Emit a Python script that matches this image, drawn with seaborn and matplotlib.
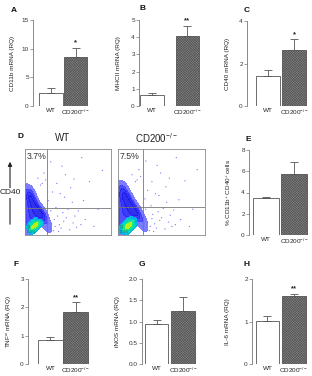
import numpy as np
import pandas as pd
import matplotlib
matplotlib.use("Agg")
import matplotlib.pyplot as plt
from matplotlib.colors import LinearSegmentedColormap
import seaborn as sns

sns.set_theme(style="white")
plt.rcParams['font.family'] = ['Liberation Sans', 'DejaVu Sans']
plt.rcParams['hatch.linewidth'] = 0.35
plt.rcParams['mathtext.fontset'] = 'custom'
plt.rcParams['mathtext.rm'] = 'Liberation Sans'

# ---------------- data ----------------
groups = ["WT", "CD200$^{-/-}$"]

cd11b_mean = [2.2, 8.5]
cd11b_err = [0.9, 1.7]
mhcii_mean = [0.65, 4.05]
mhcii_err = [0.1, 0.62]
cd40_mean = [1.42, 2.65]
cd40_err = [0.28, 0.5]
pct_mean = [3.45, 5.75]
pct_err = [0.15, 1.1]
tnf_mean = [0.85, 1.85]
tnf_err = [0.12, 0.33]
inos_mean = [0.93, 1.25]
inos_err = [0.1, 0.33]
il6_mean = [1.02, 1.6]
il6_err = [0.1, 0.05]

flow_titles = ["WT", "CD200$^{-/-}$"]
flow_pct = ["3.7%", "7.5%"]
flow_q3 = ["95.5%", "92.5%"]
flow_vline = [26, 29]
flow_hline = [31, 33]

# representative event cloud (axis units 0-100), WT and CD200-/-
cloud_wt_x = [1, 3, 5, 7, 9, 11, 13, 15, 17, 19, 21, 23, 1, 3, 5, 7, 9, 11, 13, 15, 17, 19, 21,
              1, 3, 5, 7, 9, 11, 13, 15, 17, 1, 3, 5, 7, 9, 11, 13, 1, 3, 5, 7, 9, 2, 5, 8, 24, 26, 28]
cloud_wt_y = [5, 8, 10, 12, 14, 16, 18, 20, 21, 22, 22, 20, 15, 18, 20, 22, 24, 25, 26, 26, 25, 24, 23,
              26, 28, 30, 31, 32, 32, 31, 30, 28, 36, 38, 40, 40, 39, 37, 35, 44, 46, 46, 45, 43, 52, 51, 49, 16, 12, 8]
core_wt_x = [4, 6, 8, 10, 12, 14, 16, 18, 1, 3, 5, 7, 9, 11, 13, 7, 9, 11, 13, 15, 17, 19, 21,
             9, 10, 11, 12, 13]
core_wt_y = [4, 6, 8, 10, 12, 14, 16, 17, 8, 10, 12, 14, 16, 18, 19, 1, 3, 5, 7, 9, 11, 13, 14,
             9, 10, 11, 12, 12]

cloud_ko_x = [1, 3, 5, 7, 9, 11, 13, 15, 17, 19, 21, 23, 25, 1, 3, 5, 7, 9, 11, 13, 15, 17, 19, 21, 23,
              1, 3, 5, 7, 9, 11, 13, 15, 17, 19, 1, 3, 5, 7, 9, 11, 13, 15, 1, 3, 5, 7, 9, 11, 2, 5, 8, 27, 29, 31]
cloud_ko_y = [5, 8, 10, 12, 14, 16, 18, 20, 22, 23, 24, 23, 21, 16, 19, 22, 24, 26, 27, 28, 28, 28, 27, 26, 25,
              28, 30, 32, 34, 35, 35, 35, 34, 33, 31, 39, 41, 43, 43, 42, 41, 40, 38, 47, 49, 50, 49, 47, 45, 56, 55, 53, 18, 14, 9]
core_ko_x = [4, 6, 8, 10, 12, 14, 16, 18, 20, 1, 3, 5, 7, 9, 11, 13, 15, 8, 10, 12, 14, 16, 18, 20, 22,
             10, 11, 12, 13, 14]
core_ko_y = [3, 5, 7, 9, 11, 13, 15, 17, 19, 7, 9, 11, 13, 15, 17, 19, 21, 0, 2, 4, 6, 8, 10, 12, 14,
             9, 10, 11, 12, 12]

# sparse events
sparse_wt_x = [28, 31, 35, 38, 42, 45, 30, 33, 40, 48, 52, 56, 60, 36, 44, 50, 27, 29, 34, 39, 58, 65, 70, 80, 46, 55, 62, 32, 37, 41, 47, 53, 68, 75, 85, 90, 30, 43, 57, 66, 20, 15, 22, 18, 24]
sparse_wt_y = [20, 14, 10, 22, 8, 16, 28, 5, 12, 20, 6, 14, 9, 32, 26, 30, 40, 8, 18, 4, 22, 12, 18, 10, 44, 38, 28, 50, 60, 48, 70, 55, 40, 62, 30, 75, 85, 80, 65, 90, 60, 66, 72, 58, 64]
sparse_ko_x = [30, 34, 37, 40, 44, 48, 32, 36, 42, 50, 54, 58, 62, 38, 46, 52, 31, 33, 39, 41, 60, 66, 72, 82, 47, 56, 64, 34, 39, 43, 49, 55, 70, 77, 86, 91, 32, 45, 59, 67, 22, 16, 24, 20, 26]
sparse_ko_y = [22, 15, 10, 24, 8, 17, 30, 5, 13, 20, 7, 15, 10, 34, 27, 31, 42, 9, 19, 4, 23, 12, 18, 10, 46, 38, 29, 52, 62, 48, 72, 56, 41, 63, 30, 76, 86, 81, 66, 90, 64, 70, 76, 62, 68]

W, H = 312, 376
fig = plt.figure(figsize=(W / 100, H / 100), dpi=100)


def px_axes(l, t, r, b):
    return fig.add_axes([l / W, 1 - b / H, (r - l) / W, (b - t) / H])


def bar_panel(l, t, r, b, means, errs, width, xlim, ylim, yticks, ylabel, ylab_x,
              star=None, fmt=None):
    ax = px_axes(l, t, r, b)
    df = pd.DataFrame({"group": groups, "value": means})
    sns.barplot(data=df, x="group", y="value", hue="group", order=groups,
                hue_order=groups, palette=["white", "#bcbcbc"], width=width,
                edgecolor="#555555", linewidth=0.6, errorbar=None, legend=False,
                ax=ax, saturation=1)
    for i, cont in enumerate(ax.containers):
        for p in cont:
            if i == 1:
                p.set_hatch("x" * 20)
            p.set_edgecolor("#555555")
    ax.errorbar([0, 1], means, yerr=[[0, 0], errs], fmt="none", ecolor="#555555",
                elinewidth=0.6, capsize=3, capthick=0.6)
    ax.set_xlim(*xlim)
    ax.set_ylim(*ylim)
    ax.set_yticks(yticks)
    if fmt:
        ax.set_yticklabels([fmt.format(v) for v in yticks])
    ax.set_xlabel("")
    ax.set_ylabel(ylabel, fontsize=4.6, color="#222222", labelpad=0)
    ax.yaxis.set_label_coords((ylab_x - l) / (r - l), 0.5)
    for s in ["top", "right", "bottom"]:
        ax.spines[s].set_visible(False)
    ax.spines["left"].set_color("#777777")
    ax.spines["left"].set_linewidth(0.6)
    ax.tick_params(axis="y", left=True, length=2, width=0.5, color="#777777",
                   labelsize=4.6, pad=1, labelcolor="#333333")
    ax.tick_params(axis="x", bottom=False, length=0, labelsize=4.6, pad=1.5,
                   labelcolor="#222222")
    if star:
        top = means[1] + errs[1]
        ax.text(1, top + (ylim[1] - ylim[0]) * 0.015, star, ha="center", va="bottom",
                fontsize=5.5, fontweight="bold", color="#222222")
    return ax


bar_panel(33, 20, 89, 106, cd11b_mean, cd11b_err, 0.97, (-0.75, 1.55), (0, 15),
          [0, 5, 10, 15], "CD11b mRNA (RQ)", 15, star="*")
bar_panel(139, 20, 200, 106, mhcii_mean, mhcii_err, 0.66, (-0.37, 1.36), (0, 5),
          [0, 1, 2, 3, 4, 5], "MHCII mRNA (RQ)", 121, star="**")
bar_panel(247, 21, 307, 106, cd40_mean, cd40_err, 0.92, (-0.81, 1.5), (0, 4),
          [0, 2, 4], "CD40 mRNA (RQ)", 230, star="*")
bar_panel(249, 150, 308, 235, pct_mean, pct_err, 0.93, (-0.61, 1.5), (0, 8),
          [0, 2, 4, 6, 8], "% CD11b$^{+}$ CD40$^{+}$ cells", 233)
bar_panel(28, 279, 89, 364, tnf_mean, tnf_err, 0.98, (-0.88, 1.51), (0, 3),
          [0, 1, 2, 3], "TNF$^{\\alpha}$ mRNA (RQ)", 14, star="**")
bar_panel(142, 279, 196, 364, inos_mean, inos_err, 0.89, (-0.55, 1.49), (0, 2.0),
          [0, 0.5, 1.0, 1.5, 2.0], "iNOS mRNA (RQ)", 120, fmt="{:.1f}")
bar_panel(252, 279, 307, 364, il6_mean, il6_err, 0.87, (-0.58, 1.49), (0, 2),
          [0, 1, 2], "IL-6 mRNA (RQ)", 230, star="**")

# ---------------- flow cytometry panels ----------------
blue_cmap = LinearSegmentedColormap.from_list("b", ["#8a8aff", "#3030ff", "#1414e6"])
core_cmap = LinearSegmentedColormap.from_list("c", ["#00a0ff", "#00d8c0", "#30ec70", "#a8f020", "#ffff00"])

flow_sets = [
    (cloud_wt_x, cloud_wt_y, core_wt_x, core_wt_y, sparse_wt_x, sparse_wt_y),
    (cloud_ko_x, cloud_ko_y, core_ko_x, core_ko_y, sparse_ko_x, sparse_ko_y),
]
flow_boxes = [(25, 149, 111, 235), (118, 149, 205, 235)]
title_x = [63, 157]

for k in range(2):
    l, t, r, b = flow_boxes[k]
    ax = px_axes(l, t, r, b)
    cx, cy, kx, ky, sx, sy = flow_sets[k]
    sns.scatterplot(x=sx, y=sy, s=0.8, color="#3a3aff", edgecolor="none", ax=ax,
                    alpha=0.7)
    sns.kdeplot(x=cx, y=cy, fill=True, cmap=blue_cmap, levels=5, thresh=0.06,
                bw_adjust=0.9, ax=ax, alpha=0.9)
    sns.kdeplot(x=kx, y=ky, fill=True, cmap=core_cmap, levels=6, thresh=0.2,
                bw_adjust=0.9, ax=ax)
    ax.set_xlim(0, 100)
    ax.set_ylim(0, 100)
    ax.axvline(flow_vline[k], color="#777777", lw=0.6)
    ax.axhline(flow_hline[k], color="#777777", lw=0.6)
    ax.set_xticks([])
    ax.set_yticks([])
    ax.set_xlabel("")
    ax.set_ylabel("")
    for s in ax.spines.values():
        s.set_color("#888888")
        s.set_linewidth(0.6)
    ax.text(2, 97, flow_pct[k], ha="left", va="top", fontsize=6.3, color="#333333")
    ax.text(2, 6.5, "Q3", ha="left", va="bottom", fontsize=2.3, color="#446644")
    ax.text(2, 1.5, flow_q3[k], ha="left", va="bottom", fontsize=2.3, color="#446644")
    fig.text(title_x[k] / W, 1 - 138 / H, flow_titles[k], ha="center", va="center",
             fontsize=7, color="#222222")

# CD40 arrow label
fig.patches.append(matplotlib.patches.FancyArrowPatch(
    (10 / W, 1 - 227 / H), (10 / W, 1 - 159 / H), transform=fig.transFigure,
    arrowstyle="-|>", mutation_scale=6, lw=0.8, color="#222222"))
fig.text(10 / W, 1 - 193 / H, "CD40", ha="center", va="center", fontsize=6,
         color="#222222", bbox=dict(facecolor="white", edgecolor="none", pad=1.2))

# panel letters
letters = [("A", 14, 10), ("B", 142, 8), ("C", 247, 10), ("D", 20, 137),
           ("E", 248, 139), ("F", 16, 265), ("G", 142, 265), ("H", 247, 265)]
for txt, x, y in letters:
    fig.text(x / W, 1 - y / H, txt, ha="center", va="center", fontsize=6,
             fontweight="bold", color="#111111")

fig.savefig("out.png", dpi=100)
